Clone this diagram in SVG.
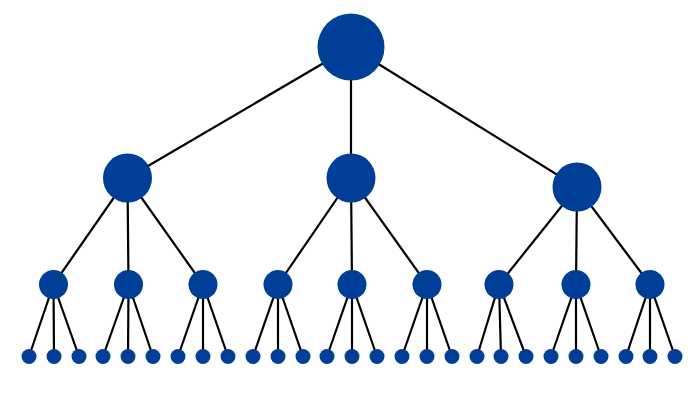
<svg xmlns="http://www.w3.org/2000/svg" width="700" height="400" viewBox="0 0 700 400">
<style>
.e line{stroke:#000;stroke-width:2.2}
.n{fill:#003f98}
</style>
<rect width="700" height="400" fill="#fff"/>
<g class="e">
<line x1="351" y1="47" x2="127.5" y2="178"/>
<line x1="351" y1="47" x2="351" y2="178"/>
<line x1="351" y1="47" x2="577" y2="187"/>
<line x1="127.5" y1="178" x2="53.5" y2="284.5"/>
<line x1="127.5" y1="178" x2="128.5" y2="284.5"/>
<line x1="127.5" y1="178" x2="203" y2="284.5"/>
<line x1="351" y1="178" x2="278" y2="284.5"/>
<line x1="351" y1="178" x2="352" y2="284.5"/>
<line x1="351" y1="178" x2="427" y2="284.5"/>
<line x1="577" y1="187" x2="499" y2="284.5"/>
<line x1="577" y1="187" x2="576" y2="284.5"/>
<line x1="577" y1="187" x2="650" y2="284.5"/>
<line x1="53.5" y1="284.5" x2="29" y2="356.5"/><line x1="53.5" y1="284.5" x2="54" y2="356.5"/><line x1="53.5" y1="284.5" x2="79" y2="356.5"/>
<line x1="128.5" y1="284.5" x2="103" y2="356.5"/><line x1="128.5" y1="284.5" x2="128" y2="356.5"/><line x1="128.5" y1="284.5" x2="153" y2="356.5"/>
<line x1="203" y1="284.5" x2="178" y2="356.5"/><line x1="203" y1="284.5" x2="203" y2="356.5"/><line x1="203" y1="284.5" x2="228" y2="356.5"/>
<line x1="278" y1="284.5" x2="253" y2="356.5"/><line x1="278" y1="284.5" x2="278" y2="356.5"/><line x1="278" y1="284.5" x2="303" y2="356.5"/>
<line x1="352" y1="284.5" x2="327" y2="356.5"/><line x1="352" y1="284.5" x2="352" y2="356.5"/><line x1="352" y1="284.5" x2="377" y2="356.5"/>
<line x1="427" y1="284.5" x2="402" y2="356.5"/><line x1="427" y1="284.5" x2="427" y2="356.5"/><line x1="427" y1="284.5" x2="452" y2="356.5"/>
<line x1="499" y1="284.5" x2="477" y2="356.5"/><line x1="499" y1="284.5" x2="501" y2="356.5"/><line x1="499" y1="284.5" x2="526" y2="356.5"/>
<line x1="576" y1="284.5" x2="551" y2="356.5"/><line x1="576" y1="284.5" x2="576" y2="356.5"/><line x1="576" y1="284.5" x2="601" y2="356.5"/>
<line x1="650" y1="284.5" x2="626" y2="356.5"/><line x1="650" y1="284.5" x2="650" y2="356.5"/><line x1="650" y1="284.5" x2="675" y2="356.5"/>
</g>
<g id="root"><circle class="n" cx="351" cy="47" r="33.5"/></g>
<g id="a"><circle class="n" cx="127.5" cy="178" r="24.5"/></g>
<g id="b"><circle class="n" cx="351" cy="178" r="24.5"/></g>
<g id="c"><circle class="n" cx="577" cy="187" r="24.5"/></g>
<g id="a1"><circle class="n" cx="53.5" cy="284.5" r="14.5"/></g>
<g id="a2"><circle class="n" cx="128.5" cy="284.5" r="14.5"/></g>
<g id="a3"><circle class="n" cx="203" cy="284.5" r="14.5"/></g>
<g id="b1"><circle class="n" cx="278" cy="284.5" r="14.5"/></g>
<g id="b2"><circle class="n" cx="352" cy="284.5" r="14.5"/></g>
<g id="b3"><circle class="n" cx="427" cy="284.5" r="14.5"/></g>
<g id="c1"><circle class="n" cx="499" cy="284.5" r="14.5"/></g>
<g id="c2"><circle class="n" cx="576" cy="284.5" r="14.5"/></g>
<g id="c3"><circle class="n" cx="650" cy="284.5" r="14.5"/></g>
<g id="a1x"><circle class="n" cx="29" cy="356.5" r="7.5"/></g><g id="a1y"><circle class="n" cx="54" cy="356.5" r="7.5"/></g><g id="a1z"><circle class="n" cx="79" cy="356.5" r="7.5"/></g>
<g id="a2x"><circle class="n" cx="103" cy="356.5" r="7.5"/></g><g id="a2y"><circle class="n" cx="128" cy="356.5" r="7.5"/></g><g id="a2z"><circle class="n" cx="153" cy="356.5" r="7.5"/></g>
<g id="a3x"><circle class="n" cx="178" cy="356.5" r="7.5"/></g><g id="a3y"><circle class="n" cx="203" cy="356.5" r="7.5"/></g><g id="a3z"><circle class="n" cx="228" cy="356.5" r="7.5"/></g>
<g id="b1x"><circle class="n" cx="253" cy="356.5" r="7.5"/></g><g id="b1y"><circle class="n" cx="278" cy="356.5" r="7.5"/></g><g id="b1z"><circle class="n" cx="303" cy="356.5" r="7.5"/></g>
<g id="b2x"><circle class="n" cx="327" cy="356.5" r="7.5"/></g><g id="b2y"><circle class="n" cx="352" cy="356.5" r="7.5"/></g><g id="b2z"><circle class="n" cx="377" cy="356.5" r="7.5"/></g>
<g id="b3x"><circle class="n" cx="402" cy="356.5" r="7.5"/></g><g id="b3y"><circle class="n" cx="427" cy="356.5" r="7.5"/></g><g id="b3z"><circle class="n" cx="452" cy="356.5" r="7.5"/></g>
<g id="c1x"><circle class="n" cx="477" cy="356.5" r="7.5"/></g><g id="c1y"><circle class="n" cx="501" cy="356.5" r="7.5"/></g><g id="c1z"><circle class="n" cx="526" cy="356.5" r="7.5"/></g>
<g id="c2x"><circle class="n" cx="551" cy="356.5" r="7.5"/></g><g id="c2y"><circle class="n" cx="576" cy="356.5" r="7.5"/></g><g id="c2z"><circle class="n" cx="601" cy="356.5" r="7.5"/></g>
<g id="c3x"><circle class="n" cx="626" cy="356.5" r="7.5"/></g><g id="c3y"><circle class="n" cx="650" cy="356.5" r="7.5"/></g><g id="c3z"><circle class="n" cx="675" cy="356.5" r="7.5"/></g>
</svg>
